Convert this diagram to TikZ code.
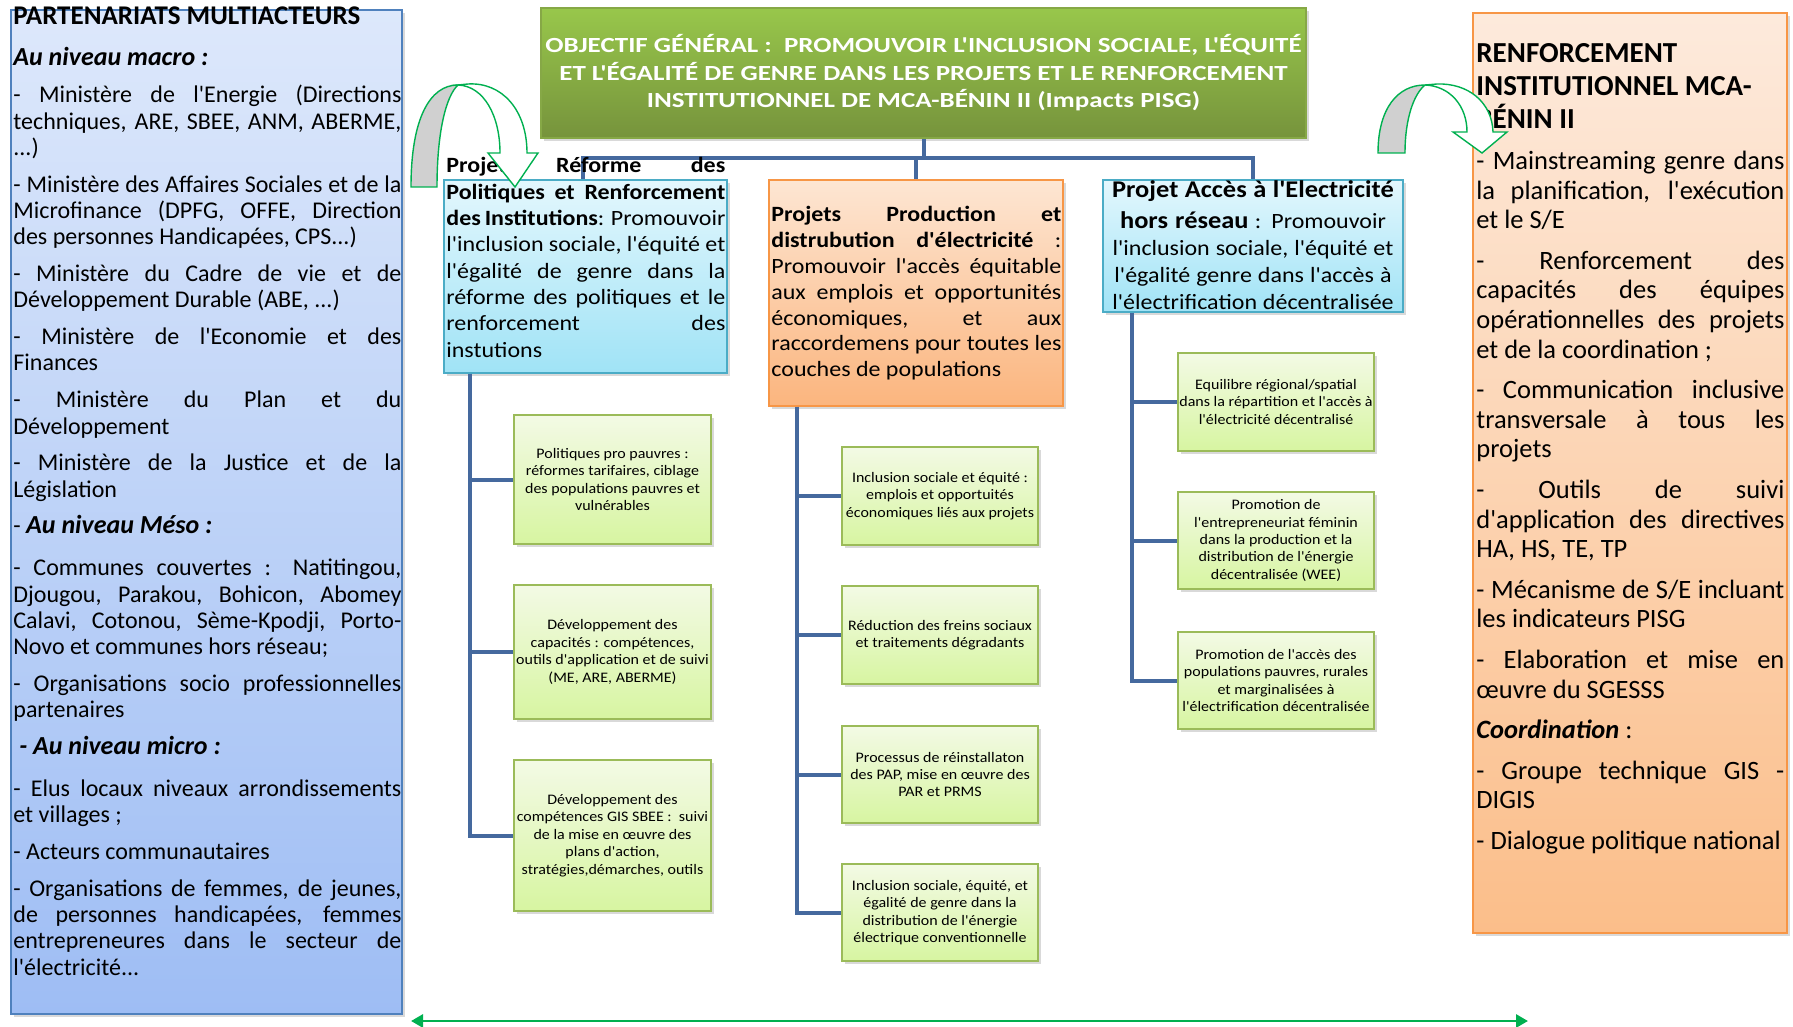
\documentclass[tikz,border=0pt]{standalone}
\usepackage{fontspec}
\setmainfont{Carlito}[Ligatures=TeXOff]
\newfontfamily\widefont{Carlito}[FakeStretch=1.1]
\newfontfamily\goalfont{Carlito}[FakeStretch=1.25]
\usepackage{tikz}
\usetikzlibrary{arrows.meta}
\usetikzlibrary{shadows}

\definecolor{linkblue}{HTML}{45699E}
\definecolor{arrowgreen}{HTML}{00B050}
\definecolor{backgray}{HTML}{D0D0D0}
\definecolor{lefttop}{HTML}{DDE8FB}
\definecolor{leftbottom}{HTML}{9EBDF4}
\definecolor{leftedge}{HTML}{4F81BD}
\definecolor{righttop}{HTML}{FDEADC}
\definecolor{rightbottom}{HTML}{FBBE8A}
\definecolor{orangeedge}{HTML}{F79646}
\definecolor{goaltop}{HTML}{98C74B}
\definecolor{goalbottom}{HTML}{76933C}
\definecolor{goaledge}{HTML}{86A846}
\definecolor{cyantop}{HTML}{E3F7FD}
\definecolor{cyanbottom}{HTML}{A0E3F6}
\definecolor{cyanedge}{HTML}{4BACC6}
\definecolor{orangetop}{HTML}{FDE6D3}
\definecolor{orangebottom}{HTML}{FBB57E}
\definecolor{leaftop}{HTML}{F3FAE5}
\definecolor{leafbottom}{HTML}{D7F5A1}
\definecolor{leafedge}{HTML}{9BBB59}

% one justified line, spaces stretched to the full width
\newcommand\jline[1]{\makebox[\linewidth][s]{#1}\\}
\newcommand\leftbody{\fontsize{12pt}{13.15pt}\selectfont\spaceskip=0pt\setlength{\parskip}{5.25pt}\setlength{\parindent}{0pt}}
\newcommand\rightbody{\fontsize{13.25pt}{14.8pt}\selectfont\spaceskip=0pt\setlength{\parskip}{5.5pt}\setlength{\parindent}{0pt}}
\newcommand\projbody{\widefont\fontsize{10.9pt}{13.15pt}\selectfont\spaceskip=0pt\setlength{\parindent}{0pt}}
\newcommand\leafbody{\widefont\fontsize{7.27pt}{8.7pt}\selectfont}

\tikzset{
  panel/.style={draw, line width=0.9pt, inner sep=0pt,
    drop shadow={opacity=0.3, shadow xshift=1.5pt, shadow yshift=-1.5pt}},
  sidebox/.style={panel, draw=leftedge, top color=lefttop, bottom color=leftbottom},
  renfobox/.style={panel, draw=orangeedge, top color=righttop, bottom color=rightbottom},
  goalbox/.style={panel, draw=goaledge, top color=goaltop, bottom color=goalbottom,
    align=center, text=white, font={\goalfont\bfseries\fontsize{10.8pt}{13.8pt}\selectfont}},
  cyanbox/.style={panel, draw=cyanedge, top color=cyantop, bottom color=cyanbottom},
  orangebox/.style={panel, draw=orangeedge, top color=orangetop, bottom color=orangebottom},
  leaf/.style={panel, draw=leafedge, line width=1pt, top color=leaftop, bottom color=leafbottom,
    align=center, font=\leafbody, minimum width=98pt},
  txt/.style={inner sep=0pt, anchor=base west, align=justify},
  link/.style={draw=linkblue, line width=2pt},
  turnback/.style={draw=arrowgreen, fill=backgray, line width=0.7pt},
  turnfront/.style={draw=arrowgreen, fill=white, line width=0.7pt},
  flow/.style={draw=arrowgreen, line width=1.4pt,
    arrows={Triangle[length=6pt,width=6.5pt]-Triangle[length=6pt,width=6.5pt]}},
}

\begin{document}
\begin{tikzpicture}[x=0.5pt,y=-0.5pt]
\useasboundingbox (0,0) rectangle (1793,1027);

% panels
\node[sidebox, minimum width=195.5pt, minimum height=502pt] (partners) at (206.5,512) {};
\node[renfobox, minimum width=157pt, minimum height=460pt] (renfo) at (1630,473) {};
\node[goalbox, minimum width=382.5pt, minimum height=65pt] (goal) at (923.5,73)
  {OBJECTIF GÉNÉRAL :\ \ PROMOUVOIR L'INCLUSION SOCIALE, L'ÉQUITÉ\\
   ET L'ÉGALITÉ DE GENRE DANS LES PROJETS ET LE RENFORCEMENT\\
   INSTITUTIONNEL DE MCA-BÉNIN II (Impacts PISG)};

\node[cyanbox, minimum width=141.5pt, minimum height=96.5pt] (proj1) at (585.5,276.5) {};
\node[orangebox, minimum width=147pt, minimum height=113pt] (proj2) at (916,293) {};
\node[cyanbox, minimum width=150pt, minimum height=66pt] (proj3) at (1253,246) {};

% sub-results
\node[leaf, minimum width=98.5pt, minimum height=64.5pt] (r1) at (612.5,479.5)
  {Politiques pro pauvres :\\ réformes tarifaires, ciblage\\ des populations pauvres et\\ vulnérables};
\node[leaf, minimum width=98.5pt, minimum height=67pt] (r2) at (612.5,652)
  {Développement des\\ capacités : compétences,\\ outils d'application et de suivi\\ (ME, ARE, ABERME)};
\node[leaf, minimum width=98.5pt, minimum height=75.5pt] (r3) at (612.5,835.5)
  {Développement des\\ compétences GIS SBEE :\ \ suivi\\ de la mise en œuvre des\\ plans d'action,\\ stratégies,démarches, outils};

\node[leaf, minimum height=49pt] (d1) at (940,496)
  {Inclusion sociale et équité :\\ emplois et opportuités\\ économiques liés aux projets};
\node[leaf, minimum height=49pt] (d2) at (940,635)
  {Réduction des freins sociaux\\ et traitements dégradants};
\node[leaf, minimum height=48.5pt] (d3) at (940,774.5)
  {Processus de réinstallaton\\ des PAP, mise en œuvre des\\ PAR et PRMS};
\node[leaf, minimum height=48.5pt] (d4) at (940,912.5)
  {Inclusion sociale, équité, et\\ égalité de genre dans la\\ distribution de l'énergie\\ électrique conventionnelle};

\node[leaf, minimum height=49pt] (h1) at (1276,402)
  {Equilibre régional/spatial\\ dans la répartition et l'accès à\\ l'électricité décentralisé};
\node[leaf, minimum height=48.5pt] (h2) at (1276,540.5)
  {Promotion de\\ l'entrepreneuriat féminin\\ dans la production et la\\ distribution de l'énergie\\ décentralisée (WEE)};
\node[leaf, minimum height=48.5pt] (h3) at (1276,680.5)
  {Promotion de l'accès des\\ populations pauvres, rurales\\ et marginalisées à\\ l'électrification décentralisée};

% connectors
\draw[link] (goal.south) -- ++(0,21);
\draw[link] ([xshift=70pt]proj1.north west) -- ++(0,-21) -| (proj3.north);
\draw[link] (proj2.north) -- ++(0,-21);
\foreach \leafname in {r1,r2,r3}
  \draw[link] ([xshift=13.5pt]proj1.south west) |- (\leafname.west);
\foreach \leafname in {d1,d2,d3,d4}
  \draw[link] ([xshift=14.5pt]proj2.south west) |- (\leafname.west);
\foreach \leafname in {h1,h2,h3}
  \draw[link] ([xshift=15pt]proj3.south west) |- (\leafname.west);

% texts
\node[txt, text width=194pt] (partnerstxt) at (13,25) {\leftbody
{\fontsize{13.5pt}{15pt}\selectfont\bfseries PARTENARIATS MULTIACTEURS\par}
{\fontsize{13pt}{15.25pt}\selectfont\bfseries\itshape Au niveau macro :\par}
\jline{- Ministère de l'Energie (Directions}
\jline{techniques, ARE, SBEE, ANM, ABERME,}
...)\par
\jline{- Ministère des Affaires Sociales et de la}
\jline{Microfinance (DPFG, OFFE, Direction}
des personnes Handicapées, CPS...)\par
\jline{- Ministère du Cadre de vie et de}
Développement Durable (ABE, ...)\par
\jline{- Ministère de l'Economie et des}
Finances\par
\jline{- Ministère du Plan et du}
Développement\par
\jline{- Ministère de la Justice et de la}
Législation\par
- {\fontsize{13pt}{13.15pt}\selectfont\bfseries\itshape Au niveau Méso :}\par
\vspace{2.5pt}
\jline{- Communes couvertes : Natitingou,}
\jline{Djougou, Parakou, Bohicon, Abomey}
\jline{Calavi, Cotonou, Sème-Kpodji, Porto-}
Novo et communes hors réseau;\par
\jline{- Organisations socio professionnelles}
partenaires\par
{\fontsize{13pt}{13.15pt}\selectfont\bfseries\itshape \ - Au niveau micro :}\par
\vspace{2.5pt}
\jline{- Elus locaux niveaux arrondissements}
et villages ;\par
- Acteurs communautaires\par
\jline{- Organisations de femmes, de jeunes,}
\jline{de personnes handicapées, femmes}
\jline{entrepreneures dans le secteur de}
l'électricité...\par};

\node[txt, text width=154pt] (renfotxt) at (1476,63) {\rightbody
{\fontsize{14.5pt}{16.5pt}\selectfont\bfseries RENFORCEMENT\\ INSTITUTIONNEL MCA-\\ BÉNIN II\par}
\jline{- Mainstreaming genre dans}
\jline{la planification, l'exécution}
et le S/E\par
\jline{- Renforcement des}
\jline{capacités des équipes}
\jline{opérationnelles des projets}
et de la coordination ;\par
\jline{- Communication inclusive}
\jline{transversale à tous les}
projets\par
\jline{- Outils de suivi}
\jline{d'application des directives}
HA, HS, TE, TP\par
\jline{- Mécanisme de S/E incluant}
les indicateurs PISG\par
\jline{- Elaboration et mise en}
œuvre du SGESSS\par
\textbf{\textit{Coordination}} :\par
\jline{- Groupe technique GIS -}
DIGIS\par
- Dialogue politique national\par};

\node[txt, text width=139.5pt] (proj1txt) at (446,173) {\projbody
\jline{\textbf{Projet Réforme des}}
\jline{\textbf{Politiques et Renforcement}}
\jline{\textbf{des Institutions}: Promouvoir}
\jline{l'inclusion sociale, l'équité et}
\jline{l'égalité de genre dans la}
\jline{réforme des politiques et le}
\jline{renforcement des}
instutions\par};

\node[txt, text width=145pt] (proj2txt) at (771,222) {\projbody\fontsize{10.9pt}{12.9pt}\selectfont
\jline{\textbf{Projets Production et}}
\jline{\textbf{distrubution d'électricité} :}
\jline{Promouvoir l'accès équitable}
\jline{aux emplois et opportunités}
\jline{économiques, et aux}
\jline{raccordemens pour toutes les}
couches de populations\par};

\node[txt, anchor=base, text width=148pt, align=center] (proj3txt) at (1253,198)
  {\projbody\fontsize{10.9pt}{13.4pt}\selectfont
  {\fontsize{12pt}{13.4pt}\selectfont\bfseries Projet Accès à l'Electricité}\\[2pt]
  {\fontsize{12pt}{13.4pt}\selectfont\bfseries hors réseau} : Promouvoir\\
  l'inclusion sociale, l'équité et\\
  l'égalité genre dans l'accès à\\
  l'électrification décentralisée\par};

% turning arrows
\filldraw[turnback] (411,187) .. controls (411,118) and (430,85) .. (458,85)
  .. controls (446,96) and (437,132) .. (437,187) -- cycle;
\filldraw[turnfront] (458,85) .. controls (484,86) and (500,116) .. (500,153)
  -- (488,153) -- (515,187) -- (538,153) -- (527,153)
  .. controls (527,110) and (502,82) .. (468,84) -- cycle;

\filldraw[turnback] (1378,153) .. controls (1378,108) and (1398,85) .. (1425,85)
  .. controls (1414,94) and (1405,118) .. (1405,153) -- cycle;
\filldraw[turnfront] (1425,85) .. controls (1450,86) and (1467,106) .. (1467,132)
  -- (1453,132) -- (1482,153) -- (1507,132) -- (1493,132)
  .. controls (1492,102) and (1468,83) .. (1437,84) -- cycle;

% bottom double arrow
\coordinate (flowL) at (411,1021);
\coordinate (flowR) at (1528,1021);
\draw[flow] (flowL) -- (flowR);
\end{tikzpicture}
\end{document}
